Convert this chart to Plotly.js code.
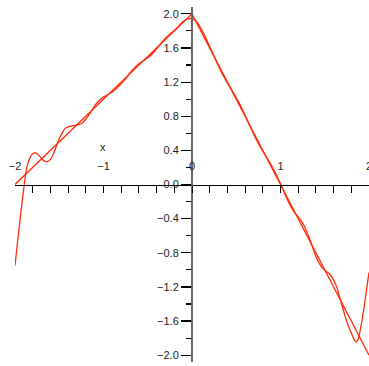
<!DOCTYPE html>
<html>
<head>
<meta charset="utf-8">
<script src="https://cdn.plot.ly/plotly-3.0.1.min.js"></script>
<style>
  html, body { margin: 0; padding: 0; background: #ffffff; }
  #plot { width: 369px; height: 366px; }
</style>
</head>
<body>
<div id="plot"></div>
<script>
// Piecewise linear target: rises from (-2, 0) to the corner (0, 2), falls to (2, -2)
const lineX = [-2, 0, 2];
const lineY = [0, 2, -2];

// Polynomial approximation of the same function (oscillates, grows at the ends)
const approxX = [
  -2, -1.975, -1.95, -1.925, -1.9, -1.875, -1.85, -1.825, -1.8, -1.775,
  -1.75, -1.725, -1.7, -1.675, -1.65, -1.625, -1.6, -1.575, -1.55, -1.525,
  -1.5, -1.475, -1.45, -1.425, -1.4, -1.375, -1.35, -1.325, -1.3, -1.275,
  -1.25, -1.225, -1.2, -1.175, -1.15, -1.125, -1.1, -1.075, -1.05, -1.025,
  -1, -0.975, -0.95,
  -0.9, -0.85, -0.8, -0.75, -0.7, -0.65, -0.6, -0.55, -0.5, -0.45,
  -0.4, -0.35, -0.3, -0.25, -0.2, -0.15, -0.1, -0.05, 0,
  0.05, 0.1, 0.15, 0.2, 0.25, 0.3, 0.35, 0.4, 0.45, 0.5,
  0.55, 0.6, 0.65, 0.7, 0.75, 0.8, 0.85, 0.9,
  0.95, 1, 1.05, 1.1, 1.15, 1.175, 1.2, 1.225, 1.25, 1.275,
  1.3, 1.325, 1.35, 1.375, 1.4, 1.425, 1.45, 1.475, 1.5, 1.525,
  1.55, 1.575, 1.6, 1.625, 1.65, 1.675, 1.7, 1.725, 1.75, 1.775,
  1.8, 1.825, 1.85, 1.875, 1.9, 1.925, 1.95, 1.975, 2
];
const approxY = [
  -0.95, -0.71, -0.48, -0.25, -0.04, 0.15, 0.26, 0.325, 0.36, 0.37,
  0.36, 0.335, 0.305, 0.28, 0.268, 0.272, 0.295, 0.34, 0.40, 0.47,
  0.535, 0.59, 0.635, 0.665, 0.675, 0.683, 0.688, 0.693, 0.70, 0.705,
  0.715, 0.735, 0.765, 0.80, 0.84, 0.88, 0.92, 0.955, 0.985, 1.005,
  1.025, 1.04, 1.055,
  1.085, 1.13, 1.18, 1.24, 1.305, 1.37, 1.415, 1.45, 1.485, 1.53,
  1.59, 1.655, 1.715, 1.765, 1.805, 1.855, 1.91, 1.94, 1.945,
  1.91, 1.83, 1.73, 1.615, 1.50, 1.385, 1.28, 1.19, 1.105, 1.015,
  0.92, 0.81, 0.695, 0.585, 0.48, 0.39, 0.305, 0.22,
  0.12, 0.01, -0.11, -0.225, -0.315, -0.35, -0.38, -0.412, -0.452, -0.50,
  -0.56, -0.628, -0.70, -0.775, -0.843, -0.90, -0.945, -0.98, -1.005, -1.025,
  -1.045, -1.075, -1.12, -1.175, -1.25, -1.34, -1.435, -1.525, -1.61, -1.68,
  -1.74, -1.80, -1.845, -1.82, -1.71, -1.565, -1.40, -1.215, -1.03
];

// Axis ranges and tick settings
const xRange = [-2, 2];
const yRange = [-2.08, 2.08];
const xLabelStep = 1, xTickStep = 0.2;
const yLabelStep = 0.4, yTickStep = 0.2;

const curveColor = 'rgb(255,45,10)';
const tickFont = { family: 'Liberation Sans, Arial, sans-serif', size: 11, color: '#222222' };

// The axes cross at the origin
const xAxisPos = (0 - yRange[0]) / (yRange[1] - yRange[0]);
const yAxisPos = (0 - xRange[0]) / (xRange[1] - xRange[0]);

const traces = [
  { x: lineX, y: lineY, mode: 'lines', line: { color: curveColor, width: 1.3 },
    hoverinfo: 'skip', showlegend: false },
  { x: approxX, y: approxY, mode: 'lines', line: { color: curveColor, width: 1.3, shape: 'spline', smoothing: 0.8 },
    hoverinfo: 'skip', showlegend: false }
];

const layout = {
  width: 369, height: 366,
  margin: { l: 15, r: 0, t: 7, b: 4 },
  paper_bgcolor: '#ffffff', plot_bgcolor: '#ffffff',
  showlegend: false,
  xaxis: {
    range: xRange, anchor: 'free', position: xAxisPos, side: 'top',
    showgrid: false, zeroline: false,
    showline: true, linecolor: '#000000', linewidth: 1,
    tickmode: 'linear', tick0: 0, dtick: xLabelStep,
    ticks: 'inside', ticklen: 7, tickwidth: 1, tickcolor: '#000000',
    minor: { dtick: xTickStep, tick0: 0, ticks: 'inside', ticklen: 7, tickwidth: 1, tickcolor: '#000000' },
    tickfont: tickFont, ticklabelstandoff: 10, ticklabeloverflow: 'allow',
    fixedrange: true
  },
  yaxis: {
    range: yRange, anchor: 'free', position: yAxisPos, side: 'left',
    showgrid: false, zeroline: false,
    showline: true, linecolor: '#666666', linewidth: 2,
    tickmode: 'linear', tick0: 0, dtick: yLabelStep, tickformat: '.1f',
    ticks: 'outside', ticklen: 10, tickwidth: 1.2, tickcolor: '#000000',
    minor: { dtick: yTickStep, tick0: 0, ticks: 'outside', ticklen: 5, tickwidth: 1.2, tickcolor: '#000000' },
    tickfont: tickFont,
    fixedrange: true
  },
  annotations: [
    { x: -1.01, y: 0.44, xref: 'x', yref: 'y', text: 'x', showarrow: false,
      font: tickFont }
  ]
};

Plotly.newPlot('plot', traces, layout, { displayModeBar: false, staticPlot: true });
</script>
</body>
</html>
